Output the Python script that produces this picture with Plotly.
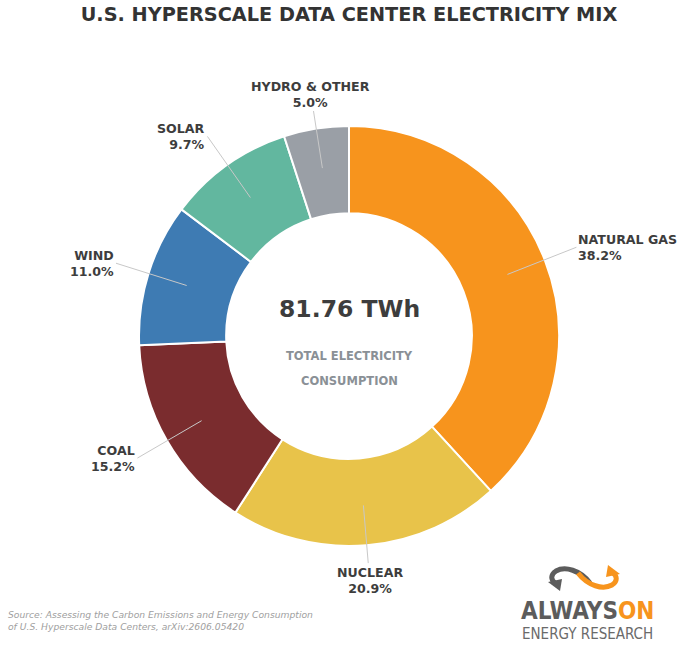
import numpy as np
import plotly.graph_objects as go

sources = ["NATURAL GAS", "NUCLEAR", "COAL", "WIND", "SOLAR", "HYDRO & OTHER"]
shares = [38.2, 20.9, 15.2, 11.0, 9.7, 5.0]
colors = ["#F7941D", "#E8C34A", "#7A2C2E", "#3E7BB3", "#62B79F", "#9A9FA6"]
total_twh = 81.76

W, H = 685, 645
cx, cy, R = 349, 336, 210   # pie centre and outer radius (pixels)


def px(x):
    return x / W


def py(y):
    return 1 - y / H


fig = go.Figure(go.Pie(
    labels=sources, values=shares, sort=False, direction="clockwise", rotation=0,
    hole=0.585, textinfo="none", hoverinfo="label+percent",
    marker=dict(colors=colors, line=dict(color="white", width=2)),
    domain=dict(x=[px(cx - R), px(cx + R)], y=[py(cy + R), py(cy - R)]),
))

# labels with leader lines
ann = []
cum = np.cumsum([0] + shares[:-1])
for name, s, c0 in zip(sources, shares, cum):
    theta = np.deg2rad((c0 + s / 2) / sum(shares) * 360)
    sx, sy = np.sin(theta), -np.cos(theta)
    tipx, tipy = cx + 170 * sx, cy + 170 * sy
    txtx, txty = cx + 244 * sx, cy + 245 * sy
    if abs(sx) < 0.3:
        anchor = "center"
    elif sx > 0:
        anchor = "left"
    else:
        anchor = "right"
    ann.append(dict(
        x=px(tipx), y=py(tipy), xref="paper", yref="paper",
        ax=txtx - tipx, ay=txty - tipy,
        text=f"<b>{name}<br>{s:.1f}%</b>", align=anchor, xanchor=anchor, yanchor="middle",
        showarrow=True, arrowhead=0, arrowwidth=1, arrowcolor="#c8c8c8", standoff=0,
        font=dict(family="DejaVu Sans", size=12.6, color="#3d3d3d"),
    ))


def text_at(x, y, text, size, color, family="DejaVu Sans", anchor="center"):
    ann.append(dict(x=px(x), y=py(y), xref="paper", yref="paper", showarrow=False,
                    xanchor=anchor, yanchor="middle", align=anchor, text=text,
                    font=dict(family=family, size=size, color=color)))


# centre text
text_at(cx, 309, f"<b>{total_twh:.2f} TWh</b>", 23.5, "#3d3d3d")
text_at(cx, 356, "<b>TOTAL ELECTRICITY</b>", 11.5, "#8a9096")
text_at(cx, 381, "<b>CONSUMPTION</b>", 11.5, "#8a9096")

# source note
text_at(6, 620, "<i>Source: Assessing the Carbon Emissions and Energy Consumption<br>"
                "of U.S. Hyperscale Data Centers, arXiv:2606.05420</i>",
        9.2, "#a0a0a0", anchor="left")

# logo text
narrow = "Liberation Sans Narrow, DejaVu Sans Condensed"
text_at(587, 611, "<b><span style='color:#5c5c5c'>ALWAYS</span>"
                  "<span style='color:#F7941D'>ON</span></b>", 24, "#5c5c5c", family=narrow)
text_at(587, 634, "ENERGY RESEARCH", 15, "#6a6a6a", family=narrow)


def path(pts, cmd):
    out = []
    for c, p in zip(cmd, pts):
        out.append(c + " " + " ".join(f"{px(x):.5f},{py(y):.5f}" for x, y in p))
    return " ".join(out)


shapes = [
    dict(type="path", xref="paper", yref="paper", line=dict(color="#5c5c5c", width=5),
         path=path([[(590, 583)], [(580, 570), (565, 566), (556, 571)], [(550, 575), (551, 580), (555, 583)]],
                   ["M", "C", "C"])),
    dict(type="path", xref="paper", yref="paper", line=dict(width=0), fillcolor="#5c5c5c",
         path=path([[(548, 582)], [(562, 579)], [(560, 591)]], ["M", "L", "L"]) + " Z"),
    dict(type="path", xref="paper", yref="paper", line=dict(color="#F7941D", width=5),
         path=path([[(578, 573)], [(588, 586), (603, 590), (612, 585)], [(618, 581), (617, 576), (613, 573)]],
                   ["M", "C", "C"])),
    dict(type="path", xref="paper", yref="paper", line=dict(width=0), fillcolor="#F7941D",
         path=path([[(620, 574)], [(606, 577)], [(608, 565)]], ["M", "L", "L"]) + " Z"),
]

fig.update_layout(
    width=W, height=H, margin=dict(l=0, r=0, t=0, b=0),
    paper_bgcolor="white", plot_bgcolor="white", showlegend=False,
    title=dict(text="<b>U.S. HYPERSCALE DATA CENTER ELECTRICITY MIX</b>", x=px(cx), xanchor="center",
               y=py(14), yanchor="middle", font=dict(family="DejaVu Sans", size=19.3, color="#333333")),
    annotations=ann, shapes=shapes,
)

# drop the page's default 8px body margin so the figure fills the window
fig.write_html("out.html", config={"displayModeBar": False},
               post_script="document.body.style.margin='0';document.body.style.overflow='hidden';")
